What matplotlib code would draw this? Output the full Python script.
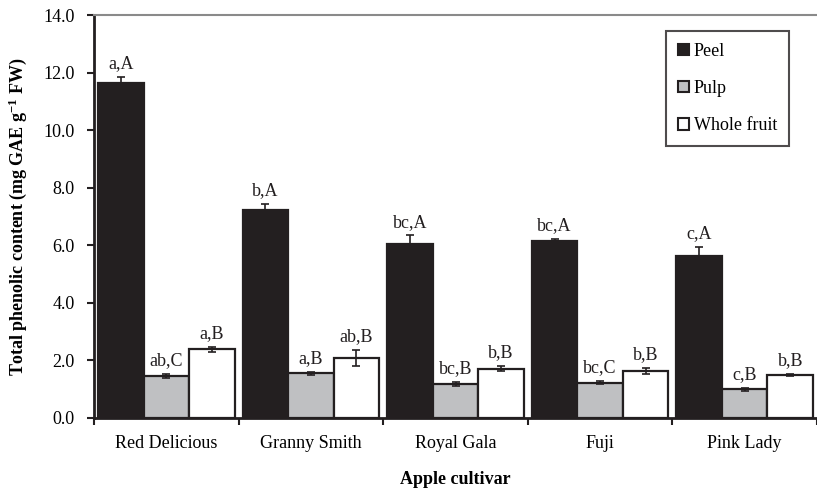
import matplotlib
matplotlib.use("Agg")
import matplotlib.pyplot as plt
import numpy as np
from matplotlib.patches import Patch

cultivars = ["Red Delicious", "Granny Smith", "Royal Gala", "Fuji", "Pink Lady"]
peel = [11.63, 7.22, 6.04, 6.16, 5.63]
peel_err = [0.2, 0.2, 0.3, 0.06, 0.3]
pulp = [1.46, 1.56, 1.18, 1.23, 1.00]
pulp_err = [0.08, 0.05, 0.07, 0.04, 0.05]
whole = [2.38, 2.08, 1.71, 1.64, 1.49]
whole_err = [0.1, 0.27, 0.08, 0.1, 0.04]
peel_lbl = ["a,A", "b,A", "bc,A", "bc,A", "c,A"]
pulp_lbl = ["ab,C", "a,B", "bc,B", "bc,C", "c,B"]
whole_lbl = ["a,B", "ab,B", "b,B", "b,B", "b,B"]

plt.rcParams['font.family'] = ['Liberation Serif', 'DejaVu Serif']
plt.rcParams['mathtext.default'] = 'regular'

fig = plt.figure(figsize=(8.17, 4.88), dpi=100)
ax = fig.add_axes([94/817, 70/488, 1 - 94/817, (418-15)/488])

x = np.arange(len(cultivars))
w = 0.315
dark = '#231f20'
series = [(peel, peel_err, peel_lbl, dark, -w),
          (pulp, pulp_err, pulp_lbl, '#bfc0c2', 0),
          (whole, whole_err, whole_lbl, '#ffffff', w)]
for vals, errs, lbls, col, off in series:
    ax.bar(x + off, vals, width=w, color=col, edgecolor=dark, linewidth=1.6, zorder=2)
    ax.errorbar(x + off, vals, yerr=errs, fmt='none', ecolor=dark,
                elinewidth=1.2, capsize=3, capthick=1.2, zorder=3)
    for xi, v, e, l in zip(x + off, vals, errs, lbls):
        ax.text(xi, v + e + 0.17, l, ha='center', va='bottom', fontsize=13, color=dark)

ax.set_xlim(-0.5, 4.44)
ax.set_ylim(0, 14)
ax.set_yticks(np.arange(0, 14.1, 2))
ax.set_yticklabels([f"{v:.1f}" for v in np.arange(0, 14.1, 2)], fontsize=13)
ax.set_xticks(x)
ax.set_xticklabels(cultivars, fontsize=13)
ax.tick_params(axis='x', which='major', length=0, pad=12)
ax.set_xticks(np.arange(-0.5, 4.6, 1), minor=True)
ax.tick_params(axis='x', which='minor', length=5, width=1.5, direction='out', color=dark)
ax.tick_params(axis='y', length=5, width=1.5, direction='out', color=dark, pad=9)

ax.spines['right'].set_visible(False)
ax.spines['top'].set_color('#8a8a8a')
ax.spines['top'].set_linewidth(1.5)
for s in ['left', 'bottom']:
    ax.spines[s].set_linewidth(2)
    ax.spines[s].set_color(dark)

ax.set_ylabel("Total phenolic content (mg GAE g$^{-1}$ FW)", fontsize=13, fontweight='bold', labelpad=10)
ax.set_xlabel("Apple cultivar", fontsize=13, fontweight='bold', labelpad=14)

handles = [Patch(facecolor=dark, edgecolor=dark, linewidth=1.5, label='Peel'),
           Patch(facecolor='#bfc0c2', edgecolor=dark, linewidth=1.5, label='Pulp'),
           Patch(facecolor='#ffffff', edgecolor=dark, linewidth=1.5, label='Whole fruit')]
leg = ax.legend(handles=handles, loc='upper left', bbox_to_anchor=((666-94)/723, 1 - (31-15)/403),
                fontsize=13, frameon=True, fancybox=False, edgecolor=dark,
                handlelength=0.6, handleheight=0.6, handletextpad=0.3,
                labelspacing=1.12, borderpad=0.65, borderaxespad=0)
leg.get_frame().set_linewidth(1.5)

fig.savefig("out.png", dpi=100)
